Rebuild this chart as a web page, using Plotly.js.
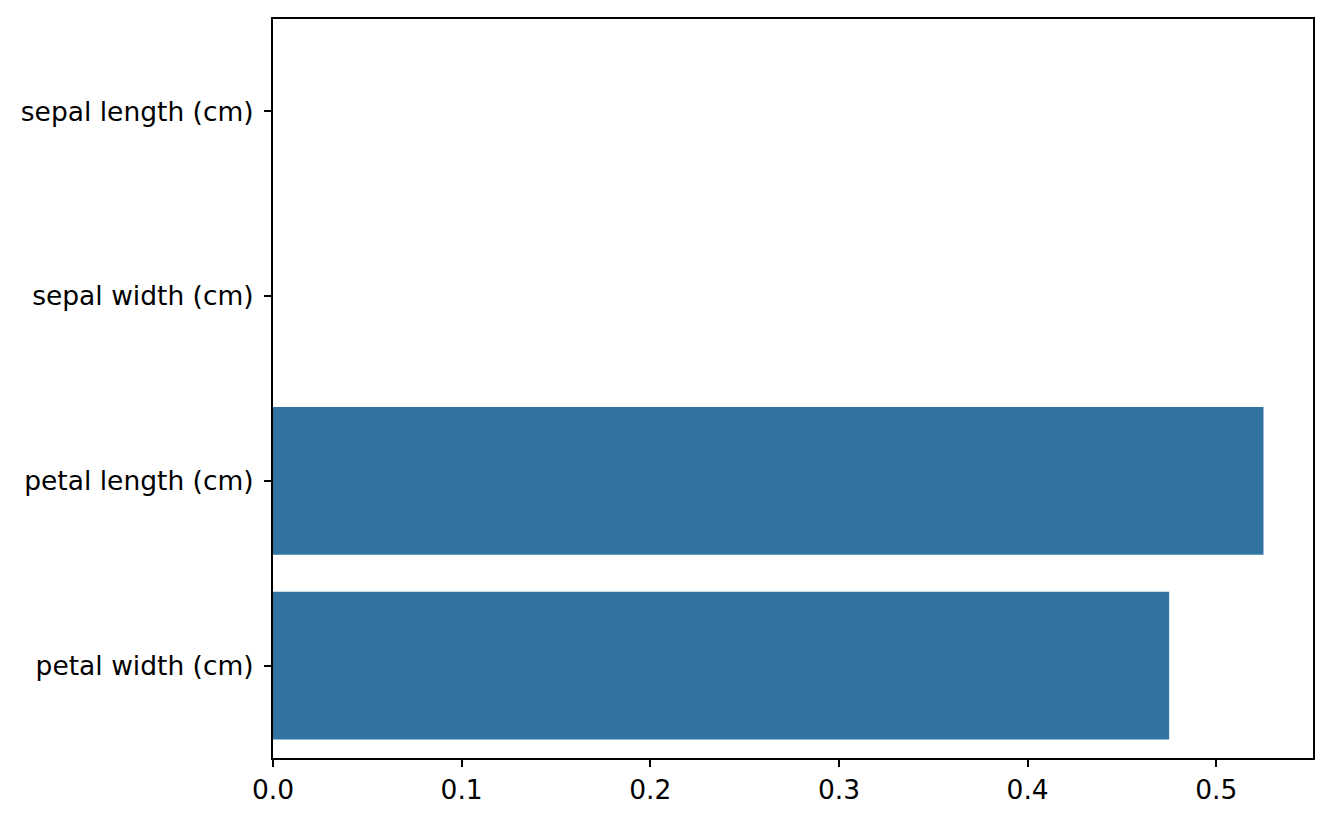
<!DOCTYPE html>
<html>
<head>
<meta charset="utf-8">
<script src="https://cdn.plot.ly/plotly-3.0.1.min.js"></script>
<style>html,body{margin:0;padding:0;background:#fff;}#chart{width:1332px;height:822px;}</style>
</head>
<body>
<div id="chart"></div>
<script>
const features = ["sepal length (cm)", "sepal width (cm)", "petal length (cm)", "petal width (cm)"];
const importances = [0.0, 0.0, 0.525, 0.475];
const xTicks = [0.0, 0.1, 0.2, 0.3, 0.4, 0.5];
const xTickText = ["0.0", "0.1", "0.2", "0.3", "0.4", "0.5"];

const trace = {
  type: "bar",
  orientation: "h",
  x: importances,
  y: features,
  marker: {color: "#3274a1"},
  hoverinfo: "x+y"
};

const axisFont = {family: "DejaVu Sans, sans-serif", size: 26.5, color: "#000"};

const layout = {
  width: 1332,
  height: 822,
  margin: {l: 273, r: 19, t: 19, b: 64, pad: 0},
  paper_bgcolor: "#fff",
  plot_bgcolor: "#fff",
  showlegend: false,
  bargap: 0.2,
  font: axisFont,
  xaxis: {
    range: [0, 0.55125],
    tickvals: xTicks,
    ticktext: xTickText,
    showgrid: false,
    zeroline: false,
    showline: true,
    mirror: true,
    linecolor: "#000",
    linewidth: 2,
    ticks: "outside",
    ticklen: 7,
    tickwidth: 2,
    tickcolor: "#000",
    tickfont: axisFont
  },
  yaxis: {
    type: "category",
    categoryorder: "array",
    categoryarray: features,
    range: [3.5, -0.5],
    showgrid: false,
    zeroline: false,
    showline: true,
    mirror: true,
    linecolor: "#000",
    linewidth: 2,
    ticks: "outside",
    ticklen: 7,
    tickwidth: 2,
    tickcolor: "#000",
    tickfont: axisFont,
    ticklabelstandoff: 5
  }
};

Plotly.newPlot("chart", [trace], layout, {displayModeBar: false, staticPlot: true});
</script>
</body>
</html>
